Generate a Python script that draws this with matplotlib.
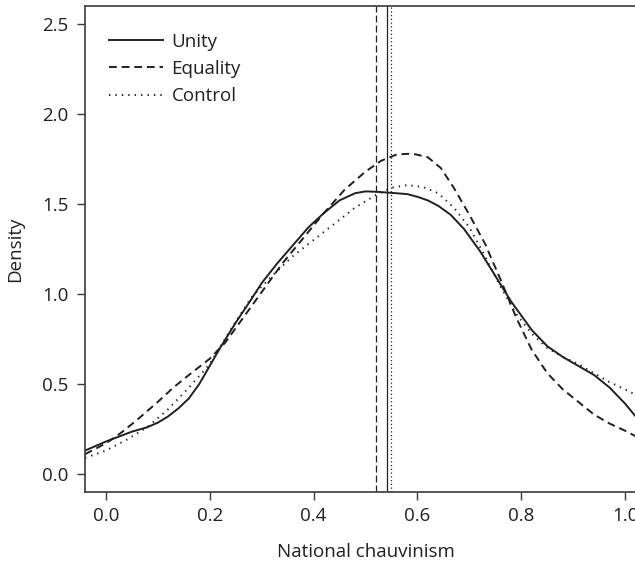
import matplotlib
matplotlib.use("Agg")
import matplotlib.pyplot as plt
import numpy as np

plt.rcParams['font.family'] = ['Open Sans', 'DejaVu Sans']

# density estimates for the three conditions
x_unity = [-0.04, 0.0, 0.05, 0.08, 0.1, 0.12, 0.14, 0.16, 0.18, 0.2, 0.22, 0.25, 0.28,
           0.3, 0.33, 0.36, 0.39, 0.42, 0.45, 0.48, 0.5, 0.52, 0.55, 0.58, 0.6, 0.62,
           0.64, 0.664, 0.69, 0.72, 0.75, 0.78, 0.8, 0.82, 0.85, 0.88, 0.91, 0.94,
           0.97, 1.0, 1.02, 1.04]
y_unity = [0.13, 0.18, 0.235, 0.26, 0.285, 0.32, 0.365, 0.42, 0.50, 0.60, 0.70, 0.84, 0.97,
           1.06, 1.17, 1.27, 1.37, 1.45, 1.52, 1.56, 1.57, 1.568, 1.562, 1.555, 1.54, 1.52,
           1.49, 1.44, 1.36, 1.24, 1.10, 0.96, 0.88, 0.80, 0.71, 0.65, 0.60, 0.55,
           0.48, 0.39, 0.32, 0.26]

x_equal = [-0.04, 0.0, 0.03, 0.06, 0.1, 0.13, 0.16, 0.2, 0.23, 0.26, 0.3, 0.34, 0.38,
           0.42, 0.46, 0.5, 0.53, 0.56, 0.59, 0.62, 0.645, 0.67, 0.7, 0.73, 0.76,
           0.79, 0.82, 0.85, 0.88, 0.91, 0.94, 0.97, 1.0, 1.04]
y_equal = [0.11, 0.17, 0.23, 0.30, 0.40, 0.48, 0.55, 0.64, 0.73, 0.85, 1.01, 1.17, 1.31,
           1.45, 1.58, 1.68, 1.74, 1.775, 1.78, 1.76, 1.70, 1.59, 1.44, 1.28, 1.08,
           0.87, 0.69, 0.56, 0.47, 0.40, 0.33, 0.28, 0.24, 0.18]

x_ctrl = [-0.04, 0.0, 0.04, 0.08, 0.12, 0.16, 0.2, 0.24, 0.28, 0.32, 0.36, 0.4, 0.44,
          0.48, 0.52, 0.55, 0.58, 0.61, 0.64, 0.67, 0.7, 0.73, 0.76, 0.79, 0.82,
          0.85, 0.88, 0.91, 0.94, 0.97, 1.0, 1.02, 1.04]
y_ctrl = [0.09, 0.13, 0.19, 0.26, 0.36, 0.48, 0.61, 0.80, 0.98, 1.10, 1.21, 1.30, 1.39,
          1.48, 1.55, 1.59, 1.605, 1.595, 1.56, 1.48, 1.37, 1.21, 1.04, 0.89, 0.78,
          0.70, 0.65, 0.61, 0.56, 0.51, 0.47, 0.44, 0.41]

# group means
mean_unity = 0.542
mean_equal = 0.521
mean_ctrl = 0.550

groups = ['Unity', 'Equality', 'Control']
ink = '#231f20'
fs = 13.5

fig = plt.figure(figsize=(6.35, 5.63), dpi=100)
# plot region runs a little past the right edge of the figure
ax = fig.add_axes([85 / 635, 71 / 563, 561 / 635, 486 / 563])

ax.plot(x_unity, y_unity, color=ink, lw=1.4, label=groups[0])
ax.plot(x_equal, y_equal, color=ink, lw=1.4, dashes=(4, 2.5), label=groups[1])
ax.plot(x_ctrl, y_ctrl, color=ink, lw=1.4, dashes=(0.7, 2.6), label=groups[2])

ax.axvline(mean_unity, color=ink, lw=0.9)
ax.axvline(mean_equal, color=ink, lw=0.9, dashes=(5.5, 2.5))
ax.axvline(mean_ctrl, color=ink, lw=0.9, dashes=(1, 2))

ax.set_xlim(-0.04, 1.04)
ax.set_ylim(-0.1, 2.6)
ax.set_xticks([0.0, 0.2, 0.4, 0.6, 0.8, 1.0])
ax.set_yticks([0.0, 0.5, 1.0, 1.5, 2.0, 2.5])
ax.set_xticklabels(['0.0', '0.2', '0.4', '0.6', '0.8', '1.0'])
ax.set_yticklabels(['0.0', '0.5', '1.0', '1.5', '2.0', '2.5'])

for s in ax.spines.values():
    s.set_color('#3a3a3a')
    s.set_linewidth(1.2)
ax.tick_params(direction='out', length=6, width=1.0, color='#3a3a3a',
               labelsize=fs, labelcolor=ink)
ax.tick_params(axis='x', pad=5)
ax.tick_params(axis='y', pad=6)

ax.set_xlabel('National chauvinism', fontsize=fs, color=ink, labelpad=13)
ax.set_ylabel('Density', fontsize=fs, color=ink, labelpad=13)

ax.legend(loc='upper left', bbox_to_anchor=(0.012, 0.98), frameon=False,
          fontsize=fs, handlelength=2.9, handletextpad=0.45, labelspacing=0.5,
          labelcolor=ink)

fig.savefig('out.png', dpi=100)
